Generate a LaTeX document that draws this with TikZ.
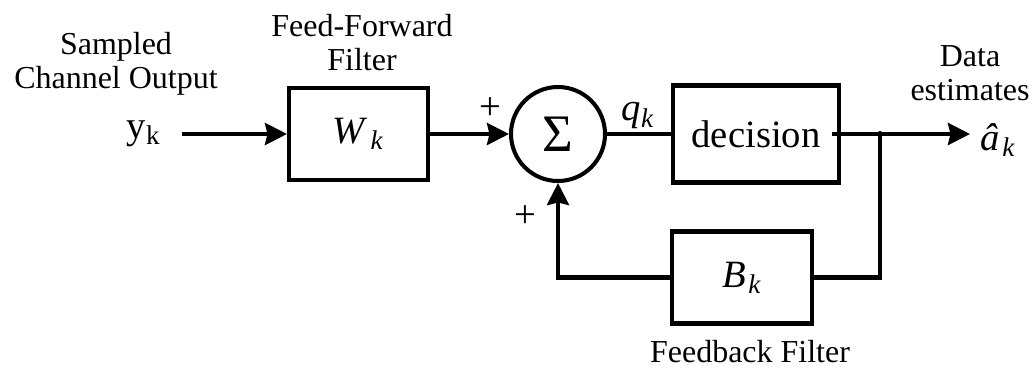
\documentclass[tikz,border=0pt]{standalone}
\usepackage{fontspec}
\setmainfont{Liberation Serif}
\usetikzlibrary{arrows.meta,calc,positioning}

\begin{document}
\begin{tikzpicture}[>={Stealth[length=0.44cm,width=0.44cm,inset=0.05cm]},line width=2.3pt,
  block/.style={draw,line width=2.3pt,minimum width=#1,minimum height=1.84cm,inner sep=0pt},
  txt/.style={font=\fontsize{18.2}{18.8}\selectfont,align=center,inner sep=0pt},
  sym/.style={font=\fontsize{22}{24}\selectfont,inner sep=0pt}]
  \useasboundingbox (0,0) rectangle (20.68,7.38);

  \node[block=2.78cm,sym] (ff) at (7.17,4.70) {\textit{W}\kern1.5pt\textsubscript{\textit{k}}};
  \node[draw,circle,minimum size=1.88cm,inner sep=0pt,font=\fontsize{30}{32}\selectfont] (sum) at (11.16,4.70) {Σ};
  \node[block=3.32cm,sym,minimum height=1.94cm] (dec) at (15.12,4.70) {decision};
  \node[block=2.80cm,sym] (fb) at (14.84,1.83) {\textit{B}\kern1.5pt\textsubscript{\textit{k}}};

  \coordinate (in) at (3.64,4.70);
  \coordinate (decout) at (16.64,4.70);
  \coordinate (tap) at (17.6,4.70);
  \coordinate (out) at (19.4,4.70);

  \node[sym,left=0.39cm of in] (yk) {y\textsubscript{k}};
  \node[sym] (qk) at (12.76,5.06) {\textit{q}\textsubscript{\textit{k}}};
  \node[sym] (ak) at (19.96,4.58) {\textit{\^{a}}\kern1.5pt\textsubscript{\textit{k}}};
  \node[sym] (plusa) at (9.8,5.20) {+};
  \node[sym] (plusb) at (10.5,3.04) {+};

  \node[txt,anchor=base] (chout) at (2.32,5.62) {Sampled\\Channel Output};
  \node[txt,anchor=base] (fflbl) at (7.24,5.98) {Feed-Forward\\Filter};
  \node[txt,anchor=base] (estlbl) at (19.4,5.38) {Data\\estimates};
  \node[txt,anchor=base] (fblbl) at (15.0,0.13) {Feedback Filter};

  \draw[->] (in) -- (ff);
  \draw[->] (ff) -- (sum);
  \draw (sum) -- (dec);
  \draw[->] (decout) -- (out);
  \draw (tap) |- (fb);
  \draw[->] (fb) -| (sum);
  \fill (tap) circle (0.06);
\end{tikzpicture}
\end{document}
